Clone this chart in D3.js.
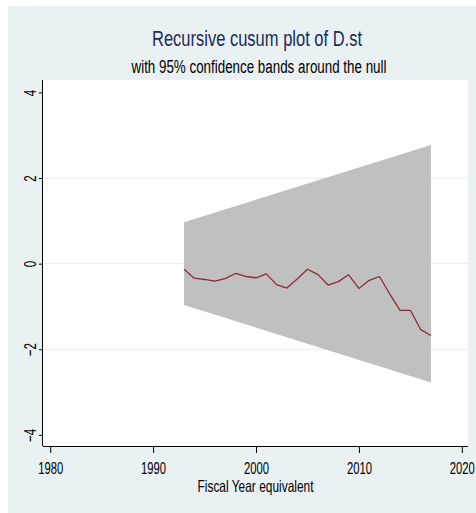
<!DOCTYPE html>
<html>
<head>
<meta charset="utf-8">
<script src="https://cdn.jsdelivr.net/npm/d3@7"></script>
<style>
  body { margin: 0; background: #fff; }
  text { font-family: "Liberation Sans", Arial, sans-serif; }
</style>
</head>
<body>
<div id="chart"></div>
<script>
// cusum data
var years = [1993, 1994, 1995, 1996, 1997, 1998, 1999, 2000, 2001, 2002, 2003, 2004, 2005,
             2006, 2007, 2008, 2009, 2010, 2011, 2012, 2013, 2014, 2015, 2016, 2017];
var cusum = [-0.13, -0.34, -0.37, -0.41, -0.35, -0.23, -0.30, -0.33, -0.24, -0.49, -0.57, -0.36, -0.13,
             -0.25, -0.50, -0.42, -0.26, -0.58, -0.39, -0.30, -0.71, -1.09, -1.09, -1.54, -1.68];
// band edges at first and last year
var bandYears = [1993, 2017];
var bandUpper = [0.967, 2.774];
var xTicks = [1980, 1990, 2000, 2010, 2020];
var yTicks = [-4, -2, 0, 2, 4];

var width = 476, height = 513;
var plot = {left: 43, right: 468, top: 80, bottom: 446};

//squeeze a text horizontally, Stata uses a narrow font
function narrow(sel, k) {
    sel.each(function() {
        var len = this.getComputedTextLength();
        d3.select(this)
            .attr("textLength", len * k)
            .attr("lengthAdjust", "spacingAndGlyphs");
    });
}

var svg = d3.select("#chart").append("svg")
    .attr("width", width)
    .attr("height", height);

//outer graph region
svg.append("rect")
    .attr("x", 8).attr("y", 6)
    .attr("width", width - 8).attr("height", height - 6)
    .attr("fill", "#eaf1f3");

//plot region
svg.append("rect")
    .attr("x", plot.left).attr("y", plot.top)
    .attr("width", plot.right - plot.left).attr("height", plot.bottom - plot.top)
    .attr("fill", "#fff");

var x = d3.scaleLinear().domain([1979.3, 2020.6]).range([plot.left, plot.right]);
var y = d3.scaleLinear().domain([-4.26, 4.29]).range([plot.bottom, plot.top]);

//gridlines
svg.append("g").selectAll("line")
    .data(yTicks.filter(function(d) { return Math.abs(d) < 4; }))
    .enter().append("line")
    .attr("x1", plot.left).attr("x2", plot.right)
    .attr("y1", function(d) { return y(d); })
    .attr("y2", function(d) { return y(d); })
    .attr("stroke", "#e6eef1")
    .attr("stroke-width", 1);

//confidence band
var bandData = bandYears.map(function(d, i) { return {year: d, up: bandUpper[i]}; });
var area = d3.area()
    .x(function(d) { return x(d.year); })
    .y0(function(d) { return y(-d.up); })
    .y1(function(d) { return y(d.up); });
svg.append("path")
    .datum(bandData)
    .attr("fill", "#c0c0c0")
    .attr("d", area);

//cusum line
var line = d3.line()
    .x(function(d, i) { return x(years[i]); })
    .y(function(d) { return y(d); });
svg.append("path")
    .datum(cusum)
    .attr("fill", "none")
    .attr("stroke", "#8e2a35")
    .attr("stroke-width", 1.3)
    .attr("stroke-linejoin", "round")
    .attr("d", line);

//axes
var xAxis = svg.append("g")
    .attr("font-size", null)
    .attr("transform", "translate(0," + plot.bottom + ")")
    .call(d3.axisBottom(x).tickValues(xTicks).tickFormat(d3.format("d")).tickSize(7).tickSizeOuter(0));
xAxis.select(".domain").attr("d", "M" + plot.left + ",0.5H" + plot.right).attr("stroke", "#000");
xAxis.selectAll(".tick text")
    .style("font-size", "17px")
    .attr("font-family", null)
    .attr("fill", "#000")
    .attr("y", 28)
    .attr("dy", "0")
    .attr("textLength", 25)
    .attr("lengthAdjust", "spacingAndGlyphs");

var yAxis = svg.append("g")
    .attr("transform", "translate(" + plot.left + ",0)")
    .call(d3.axisLeft(y).tickValues(yTicks).tickSize(4).tickSizeOuter(0));
yAxis.select(".domain").attr("d", "M-0.5," + plot.top + "V" + plot.bottom).attr("stroke", "#000");
yAxis.selectAll(".tick text")
    .style("font-size", "17px")
    .attr("font-family", null)
    .attr("fill", "#000")
    .attr("x", -13)
    .attr("dy", "0")
    .attr("text-anchor", "middle")
    .attr("dominant-baseline", "central")
    .attr("transform", "rotate(-90,-13,0)")
    .call(narrow, 0.68);
svg.selectAll(".tick line").attr("stroke", "#000");

//titles
var cx = (plot.left + plot.right) / 2;
svg.append("text")
    .attr("x", 257).attr("y", 46)
    .attr("text-anchor", "middle")
    .attr("fill", "#1c2b5a")
    .style("font-size", "22px")
    .attr("textLength", 210)
    .attr("lengthAdjust", "spacingAndGlyphs")
    .text("Recursive cusum plot of D.st");

svg.append("text")
    .attr("x", 259).attr("y", 73)
    .attr("text-anchor", "middle")
    .attr("fill", "#000")
    .style("font-size", "18px")
    .attr("textLength", 255)
    .attr("lengthAdjust", "spacingAndGlyphs")
    .text("with 95% confidence bands around the null");

svg.append("text")
    .attr("x", cx).attr("y", 492)
    .attr("text-anchor", "middle")
    .attr("fill", "#000")
    .style("font-size", "16.5px")
    .attr("textLength", 116)
    .attr("lengthAdjust", "spacingAndGlyphs")
    .text("Fiscal Year equivalent");
</script>
</body>
</html>
